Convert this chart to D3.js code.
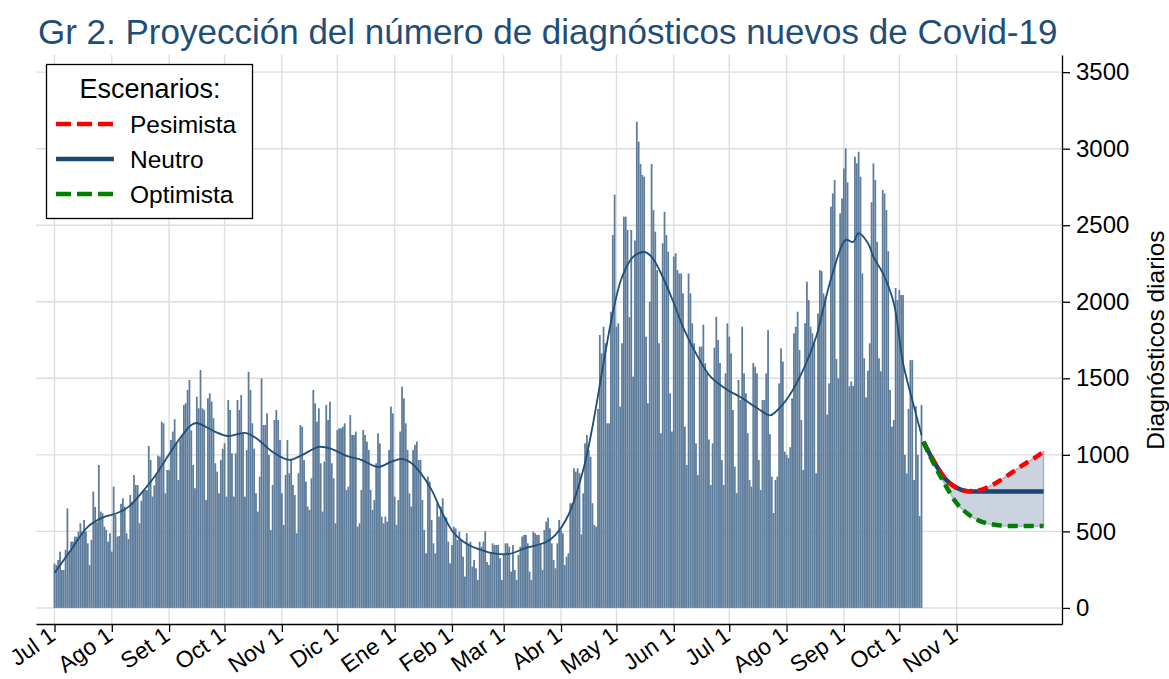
<!DOCTYPE html>
<html>
<head>
<meta charset="utf-8">
<script src="https://cdn.jsdelivr.net/npm/d3@7"></script>
<style>
  body { margin: 0; background: #fff; }
  svg { display: block; font-family: "Liberation Sans", Arial, sans-serif; }
</style>
</head>
<body>
<figure id="chart" style="margin:0"></figure>
<script>
// diagnosticos diarios, un array por mes (desde el 1 de julio de 2020)
const jul20 = [290,280,313,368,248,248,380, 650,368,433,433,466,466,498, 553,500,575,500,422,280,444, 760,660,560,934,629,618,531, 510,433,488];
const ago20 = [368,792,607,466,470,680,716, 662,488,450,738,694,868,803, 803,553,700,760,770,770,1058, 966,727,800,880,995,988,1217, 1206,749,901];
const set20 = [900,1097,1152,1233,1086,836,1100, 1130,1326,1337,1424,1489,1160,934, 782,1380,1304,1554,1304,1293,705, 1369,1402,1347,1239,945,890,749, 966,1040];
const oct20 = [1075,727,1358,1293,1010,727,1010, 1358,1293,1391,1140,727,1032,1543, 1424,1206,1040,749,629,858,1500, 1195,1195,1271,1000,509,803,1228, 1293,1228,1097];
const nov20 = [749,542,869,1097,880,966,803, 738,488,880,1195,1184,966,825, 662,640,847,1424,1337,1217,1304, 945,629,956,1326,1228,1347,945, 847,553];
const dic20 = [1162,1173,1173,1184,1206,770,792, 1260,1130,1130,1152,531,553,771, 1162,1130,1086,1032,771,640,705, 945,1141,1075,597,553,597,564, 1032,1315,1271];
const ene21 = [727,542,705,1152,1445,1369,1206, 1032,749,662,1032,1065,1086,966, 966,705,509,357,858,825,575, 422,357,683,597,662,716,597, 590,433,292];
const feb21 = [411,531,520,444,498,444,335, 205,488,422,433,270,313,259, 183,433,400,433,500,300,280, 357,422,411,411,411,324,183];
const mar21 = [357,422,422,400,237,411,248, 183,346,400,466,477,477,422, 237,183,498,488,477,477,422, 248,509,564,590,520,422,313, 259,422,575];
const abr21 = [509,488,280,335,357,684,684, 912,890,912,880,480,749,1075, 1130,1032,988,684,542,531,1300, 1783,1663,1837,1729,1206,1206,1935, 2436,2700];
const may21 = [1837,1859,1315,1729,2556,2556,2469, 1900,2469,1511,2400,3176,3046,2900, 2828,2817,1772,1337,2000,2900,2599, 2458,2207,1729,1141,2382,2588,2436, 2327,1402,1152];
const jun21 = [2295,2317,2207,2185,2185,2055,1184, 934,2185,2055,1859,1729,1075,868, 1707,1707,1850,1598,1532,1100,803, 1075,1700,1902,1750,1600,966,803, 1532,1859];
const jul21 = [1772,1663,1293,923,750,1489,1358, 1837,1532,1402,1141,836,792,1600, 1576,1532,966,770,1358,1358,1532, 1815,1135,858,620,836,858,1467, 1696,1609,1021];
const ago21 = [1000,980,1050,1369,1794,1837,1935, 1685,1228,901,1860,2131,2011,1837, 1794,1729,879,1924,2207,2200,2055, 2033,1263,1467,2621,2708,2795,1626, 1500,2577,2675];
const set21 = [2871,3002,2780,1448,1480,1450,2948, 2904,2980,2817,2185,1631,1375,1550, 1729,2650,2904,2795,2392,1631,1546, 2730,2708,2599,2330,1424,1184,1228, 2090,2011];
const oct21 = [2077,2044,2044,1000,879,1300,1619,1619,836,1317,1000,600,1326];

// linea suavizada (dias desde el 1 de julio de 2020)
const tendDia = [0,9,18,26,34,40,47,54,61,68, 74,77,82,87,94,103,109,118,127,134, 143,150,158,166,175,182,188,193,198,204,
  209,216,224,231,236,246,255,266,271,278, 286,291,297,302,307,313,319,323,328,335, 340,348,355,364,371,380,387,390,397,405,
  412,417,421,428,432,435,440,443,448,454, 459,464,469];
const tendValor = [228,380,530,590,620,660,750,855,985,1110, 1195,1208,1182,1150,1123,1143,1110,1019,967,999, 1052,1038,993,967,921,954,973,947,882,771,
  640,490,411,379,359,353,392,431,477,607, 901,1182,1600,1927,2162,2293,2325,2293,2188,1992, 1835,1640,1509,1424,1378,1306,1258,1280,1378,1555,
  1770,2012,2188,2404,2391,2449,2384,2293,2188,1992, 1600,1358,1130];

// escenarios de proyeccion
const proyDia   = [470,476,482,488,494,500,506,512,518,524,530,535];
const pesimista = [1086,952,842,783,763,768,795,836,885,935,978,1021];
const neutro    = [1086,950,840,785,762,760,760,760,760,760,760,760];
const optimista = [1086,934,800,684,615,570,549,538,535,535,535,535];

const etiquetasMes = ["Jul 1","Ago 1","Set 1","Oct 1","Nov 1","Dic 1","Ene 1","Feb 1","Mar 1","Abr 1","May 1","Jun 1","Jul 1","Ago 1","Sep 1","Oct 1","Nov 1"];
const ticksY = [0,500,1000,1500,2000,2500,3000,3500];

const width = 1169, height = 679;
const inicio = new Date(2020, 6, 1);
const dia = i => d3.timeDay.offset(inicio, i);

const diarios = [].concat(jul20, ago20, set20, oct20, nov20, dic20, ene21, feb21, mar21, abr21, may21, jun21, jul21, ago21, set21, oct21);
const serie = diarios.map((v, i) => ({ fecha: dia(i), valor: v }));
const tendencia = tendDia.map((d, i) => ({ fecha: dia(d), valor: tendValor[i] }));
const proy = proyDia.map((d, i) => ({ fecha: dia(d), pes: pesimista[i], neu: neutro[i], opt: optimista[i] }));
const fechasMes = d3.timeMonth.range(inicio, new Date(2021, 10, 2));

const svg = d3.select("figure#chart")
  .append("svg")
  .attr("width", width)
  .attr("height", height);

const x = d3.scaleTime()
  .domain([new Date(2020, 5, 21), new Date(2021, 11, 28)])
  .range([36, 1062]);

const y = d3.scaleLinear()
  .domain([-105, 3612])
  .range([624, 55]);

// grilla
svg.append("g")
  .selectAll("line")
  .data(ticksY)
  .enter()
  .append("line")
  .attr("x1", 36).attr("x2", 1062)
  .attr("y1", d => y(d)).attr("y2", d => y(d))
  .attr("stroke", "#dedede")
  .attr("stroke-width", 1.4);

svg.append("g")
  .selectAll("line")
  .data(fechasMes)
  .enter()
  .append("line")
  .attr("x1", d => x(d)).attr("x2", d => x(d))
  .attr("y1", 55).attr("y2", 624)
  .attr("stroke", "#dedede")
  .attr("stroke-width", 1.4);

// barras
const paso = x(dia(1)) - x(dia(0));
const ancho = paso * 0.96;
svg.append("g")
  .selectAll("rect")
  .data(serie)
  .enter()
  .append("rect")
  .attr("x", d => x(d.fecha) - ancho / 2)
  .attr("y", d => y(d.valor))
  .attr("width", ancho)
  .attr("height", d => y(0) - y(d.valor))
  .attr("fill", "#5d7c9b");

// tendencia
svg.append("path")
  .datum(tendencia)
  .attr("fill", "none")
  .attr("stroke", "#1f4e79")
  .attr("stroke-width", 1.8)
  .attr("d", d3.line()
    .curve(d3.curveCatmullRom.alpha(0.5))
    .x(d => x(d.fecha))
    .y(d => y(d.valor)));

// banda entre escenarios
const banda = d3.area()
  .curve(d3.curveMonotoneX)
  .x(d => x(d.fecha))
  .y0(d => y(d.opt))
  .y1(d => y(d.pes));

svg.append("path")
  .datum(proy)
  .attr("fill", "#cbd4de")
  .attr("stroke", "#a6b5c6")
  .attr("stroke-width", 1.5)
  .attr("d", d => banda(d) + "Z");

const linea = campo => d3.line()
  .curve(d3.curveMonotoneX)
  .x(d => x(d.fecha))
  .y(d => y(d[campo]));

svg.append("path")
  .datum(proy)
  .attr("fill", "none")
  .attr("stroke", "#1a4872")
  .attr("stroke-width", 4.5)
  .attr("d", linea("neu"));

svg.append("path")
  .datum(proy)
  .attr("fill", "none")
  .attr("stroke", "#ff0000")
  .attr("stroke-width", 4.5)
  .attr("stroke-dasharray", "10,6")
  .attr("d", linea("pes"));

svg.append("path")
  .datum(proy)
  .attr("fill", "none")
  .attr("stroke", "#008000")
  .attr("stroke-width", 4.5)
  .attr("stroke-dasharray", "10,6")
  .attr("d", linea("opt"));

// eje x
const ejeX = svg.append("g")
  .attr("transform", "translate(0,624)")
  .call(d3.axisBottom(x)
    .tickValues(fechasMes)
    .tickFormat((d, i) => etiquetasMes[i])
    .tickSize(8)
    .tickSizeOuter(0));
ejeX.select(".domain").attr("stroke", "#000").attr("stroke-width", 1.3);
ejeX.selectAll(".tick line").attr("stroke", "#000").attr("stroke-width", 1.3);
ejeX.selectAll("text")
  .attr("x", 0).attr("y", 0).attr("dy", 0)
  .attr("transform", "translate(2,15) rotate(-35)")
  .style("text-anchor", "end")
  .style("font-size", "23px")
  .attr("fill", "#000")
  .attr("font-family", "Liberation Sans, Arial, sans-serif");

// eje y (derecha)
const ejeY = svg.append("g")
  .attr("transform", "translate(1062,0)")
  .call(d3.axisRight(y)
    .tickValues(ticksY)
    .tickFormat(d3.format("d"))
    .tickSize(8)
    .tickSizeOuter(0));
ejeY.select(".domain").attr("stroke", "#000").attr("stroke-width", 1.3);
ejeY.selectAll(".tick line").attr("stroke", "#000").attr("stroke-width", 1.3);
ejeY.selectAll("text")
  .attr("x", 14)
  .style("font-size", "24px")
  .attr("fill", "#000")
  .attr("font-family", "Liberation Sans, Arial, sans-serif");

svg.append("text")
  .attr("transform", "translate(1164,340) rotate(-90)")
  .attr("text-anchor", "middle")
  .style("font-size", "24.5px")
  .text("Diagnósticos diarios");

// titulo
svg.append("text")
  .attr("x", 38)
  .attr("y", 44)
  .attr("fill", "#1f4e79")
  .style("font-size", "35px")
  .text("Gr 2. Proyección del número de diagnósticos nuevos de Covid-19");

// leyenda
const leyenda = svg.append("g");
leyenda.append("rect")
  .attr("x", 46.5).attr("y", 64.5)
  .attr("width", 206).attr("height", 154)
  .attr("fill", "#fff")
  .attr("stroke", "#000")
  .attr("stroke-width", 1.3);
leyenda.append("text")
  .attr("x", 150).attr("y", 98)
  .attr("text-anchor", "middle")
  .style("font-size", "27px")
  .text("Escenarios:");

const items = [
  { nombre: "Pesimista", color: "#ff0000", dash: "15,6" },
  { nombre: "Neutro", color: "#1a4872", dash: null },
  { nombre: "Optimista", color: "#008000", dash: "15,6" }
];
items.forEach((it, i) => {
  const yy = 124 + i * 35;
  leyenda.append("line")
    .attr("x1", 56).attr("x2", 114)
    .attr("y1", yy).attr("y2", yy)
    .attr("stroke", it.color)
    .attr("stroke-width", 4.5)
    .attr("stroke-dasharray", it.dash);
  leyenda.append("text")
    .attr("x", 130).attr("y", yy + 9)
    .style("font-size", "24.5px")
    .text(it.nombre);
});
</script>
</body>
</html>
